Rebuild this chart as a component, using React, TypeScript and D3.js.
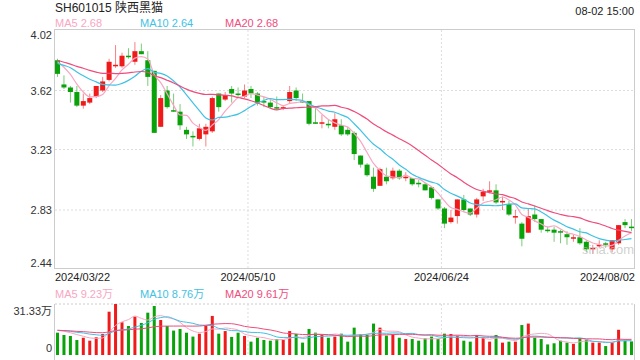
import React from "react";
import * as d3 from "d3";

// header texts
const title = "SH601015 陕西黑猫";
const stamp = "08-02 15:00";

// daily candles 2024/03/22 .. 2024/08/02 (90 trading days)
const opens = [
  3.82, 3.66, 3.64, 3.61, 3.52, 3.54, 3.58, 3.62, 3.69, 3.78,
  3.78, 3.85, 3.81, 3.88, 3.82, 3.75, 3.38, 3.62, 3.49, 3.48,
  3.36, 3.32, 3.30, 3.33, 3.35, 3.60, 3.56, 3.63, 3.60, 3.58,
  3.63, 3.60, 3.55, 3.54, 3.51, 3.50, 3.55, 3.62, 3.55, 3.55,
  3.41, 3.40, 3.40, 3.38, 3.39, 3.36, 3.34, 3.19, 3.13, 3.05,
  2.99, 3.05, 3.04, 3.09, 3.04, 3.04, 3.01, 3.00, 2.98, 2.90,
  2.84, 2.75, 2.79, 2.90, 2.84, 2.80, 2.92, 2.95, 2.96, 2.88,
  2.87, 2.78, 2.74, 2.68, 2.80, 2.77, 2.70, 2.70, 2.69, 2.67,
  2.64, 2.65, 2.62, 2.57, 2.59, 2.61, 2.57, 2.61, 2.75, 2.72,
];
const highs = [
  3.83, 3.72, 3.65, 3.65, 3.60, 3.60, 3.65, 3.71, 3.83, 3.92,
  3.87, 3.90, 3.94, 3.93, 3.88, 3.75, 3.59, 3.65, 3.60, 3.53,
  3.38, 3.35, 3.40, 3.40, 3.58, 3.60, 3.61, 3.65, 3.64, 3.66,
  3.65, 3.61, 3.58, 3.57, 3.58, 3.52, 3.65, 3.64, 3.60, 3.55,
  3.51, 3.46, 3.43, 3.47, 3.43, 3.38, 3.35, 3.19, 3.14, 3.11,
  3.11, 3.11, 3.11, 3.10, 3.08, 3.04, 3.03, 3.01, 2.98, 2.90,
  2.85, 2.83, 2.90, 2.93, 2.84, 2.91, 2.97, 3.02, 3.00, 2.92,
  2.89, 2.83, 2.75, 2.84, 2.86, 2.77, 2.72, 2.72, 2.70, 2.69,
  2.67, 2.71, 2.63, 2.60, 2.63, 2.62, 2.63, 2.73, 2.77, 2.77,
];
const lows = [
  3.71, 3.63, 3.54, 3.51, 3.50, 3.53, 3.57, 3.61, 3.68, 3.77,
  3.77, 3.83, 3.79, 3.86, 3.65, 3.34, 3.38, 3.50, 3.48, 3.36,
  3.30, 3.25, 3.29, 3.25, 3.34, 3.48, 3.55, 3.54, 3.57, 3.57,
  3.57, 3.52, 3.51, 3.50, 3.49, 3.49, 3.53, 3.55, 3.54, 3.39,
  3.40, 3.37, 3.37, 3.36, 3.32, 3.32, 3.16, 3.11, 3.05, 2.95,
  2.99, 3.00, 3.03, 3.03, 3.02, 2.99, 2.98, 2.96, 2.90, 2.83,
  2.71, 2.74, 2.74, 2.82, 2.79, 2.78, 2.89, 2.94, 2.87, 2.83,
  2.79, 2.74, 2.59, 2.68, 2.75, 2.68, 2.68, 2.62, 2.61, 2.60,
  2.62, 2.60, 2.55, 2.54, 2.58, 2.58, 2.55, 2.60, 2.71, 2.69,
];
const closes = [
  3.73, 3.64, 3.61, 3.52, 3.55, 3.57, 3.65, 3.68, 3.81, 3.79,
  3.85, 3.84, 3.88, 3.86, 3.71, 3.34, 3.57, 3.51, 3.48, 3.39,
  3.33, 3.31, 3.37, 3.38, 3.57, 3.51, 3.59, 3.60, 3.59, 3.62,
  3.60, 3.54, 3.54, 3.51, 3.50, 3.51, 3.61, 3.57, 3.54, 3.40,
  3.40, 3.41, 3.39, 3.43, 3.33, 3.33, 3.20, 3.13, 3.06, 2.97,
  3.10, 3.02, 3.09, 3.04, 3.05, 3.00, 3.00, 2.96, 2.91, 2.84,
  2.74, 2.78, 2.90, 2.83, 2.80, 2.90, 2.95, 2.96, 2.88, 2.89,
  2.80, 2.79, 2.64, 2.79, 2.77, 2.70, 2.69, 2.68, 2.68, 2.65,
  2.65, 2.61, 2.57, 2.58, 2.60, 2.60, 2.63, 2.73, 2.73, 2.71,
];
// volume, 万手
const volumes = [
  13.7, 12.3, 11.7, 9.2, 10.6, 8.8, 10.9, 12.9, 26.6, 31.33,
  20.1, 17.8, 23.6, 19.7, 26.0, 30.1, 21.5, 17.8, 15.0, 16.0,
  13.7, 11.3, 13.1, 18.0, 24.0, 13.1, 14.7, 11.1, 13.7, 11.7,
  8.2, 10.6, 9.2, 8.8, 9.8, 9.2, 14.7, 12.9, 7.6, 16.0,
  13.7, 12.9, 10.6, 11.3, 13.1, 8.2, 16.8, 12.9, 12.3, 19.3,
  16.8, 11.9, 12.9, 10.6, 9.8, 9.8, 8.8, 10.2, 11.3, 9.8,
  13.1, 12.9, 11.9, 8.8, 8.2, 12.3, 10.9, 8.2, 12.3, 7.6,
  8.2, 8.2, 18.4, 19.3, 10.6, 9.8, 6.5, 7.2, 8.8, 7.6,
  6.8, 10.25, 9.2, 7.6, 7.6, 5.5, 8.0, 15.5, 8.8, 8.35,
];
// the 19 sessions before the window, only feeding the moving averages
const priorCloses = [
  3.90, 3.86, 3.82, 3.80, 3.85, 3.88, 3.84, 3.80, 3.83, 3.82,
  3.78, 3.76, 3.80, 3.81, 3.80, 3.82, 3.85, 3.84, 3.81,
];
const priorVolumes = [
  16.2, 14.8, 15.5, 13.9, 15.1, 16.8, 14.2, 15.6, 14.9, 15.3,
  14.1, 16.0, 15.2, 14.6, 15.8, 15.0, 16.4, 14.7, 15.9,
];

const priceTicks = [4.02, 3.62, 3.23, 2.83, 2.44];
const dateLabels = ["2024/03/22", "2024/05/10", "2024/06/24", "2024/08/02"];
const dateIndex = [0, 30, 60, 89];
const maPeriods = [5, 10, 20];

const maColors = ["#f9a6c3", "#3fc2e4", "#ee4d7d"];
const UP = "#ef1b1b";
const DOWN = "#0aa20a";
const FONT = "Arial, 'Liberation Sans', 'Noto Sans CJK SC', sans-serif";

function movingAvg(prior: number[], vals: number[], n: number) {
  const all = prior.concat(vals);
  const p = prior.length;
  return vals.map((_, i) => d3.mean(all.slice(i + p - n + 1, i + p + 1)) as number);
}

export default function App() {
  const left = 55;
  const right = 634;
  const top = 30;
  const bottom = 269;
  const vTop = 304;
  const vBottom = 355;

  const idx = d3.range(closes.length);
  const x = d3.scaleBand<number>().domain(idx).range([left, right]).paddingInner(0.22);
  const bw = x.bandwidth();
  const cx = (i: number) => (x(i) as number) + bw / 2;
  const y = d3.scaleLinear().domain([2.44, 4.02]).range([bottom, top]);
  const yv = d3.scaleLinear().domain([0, 31.33]).range([vBottom, vTop]);

  const priceMA = maPeriods.map((n) => movingAvg(priorCloses, closes, n));
  const volMA = maPeriods.map((n) => movingAvg(priorVolumes, volumes, n));

  const priceLine = d3.line<number>().x((_, i) => cx(i)).y((d) => y(d)).curve(d3.curveMonotoneX);
  const volLine = d3.line<number>().x((_, i) => cx(i)).y((d) => yv(d)).curve(d3.curveMonotoneX);

  const f2 = d3.format(".2f");
  const legendX = [55, 140, 225];
  const gridX = [dateIndex[1], dateIndex[2]].map((i) => (x(i) as number) - 0.5);

  return (
    <svg width={640} height={360} style={{ position: "absolute", left: 0, top: 0, background: "#fff" }} fontFamily={FONT}>
      <text x={55} y={12} fontSize={12} fill="#222">{title}</text>
      <text x={634} y={15} fontSize={11} fill="#222" textAnchor="end">{stamp}</text>
      {maPeriods.map((n, k) => (
        <text key={"pl" + n} x={legendX[k]} y={27} fontSize={11} fill={maColors[k]}>
          {"MA" + n + " " + f2(priceMA[k][closes.length - 1])}
        </text>
      ))}

      {/* price panel grid */}
      {priceTicks.slice(1, -1).map((t) => (
        <line key={"g" + t} x1={left} x2={right} y1={y(t)} y2={y(t)} stroke="#ddd" strokeDasharray="2,2" />
      ))}
      {gridX.map((gx) => (
        <line key={"v" + gx} x1={gx} x2={gx} y1={top} y2={bottom} stroke="#ddd" strokeDasharray="2,2" />
      ))}
      <rect x={left - 0.5} y={top - 0.5} width={right - left + 1} height={bottom - top} fill="none" stroke="#ccc" />

      {priceTicks.map((t, k) => (
        <text key={"t" + t} x={52} y={k === 0 ? y(t) + 9 : k === priceTicks.length - 1 ? y(t) - 2 : y(t) + 4}
          fontSize={11} fill="#333" textAnchor="end">{f2(t)}</text>
      ))}

      {/* candles */}
      {idx.map((i) => {
        const up = closes[i] >= opens[i];
        const c = up ? UP : DOWN;
        const y0 = y(Math.max(opens[i], closes[i]));
        const y1 = y(Math.min(opens[i], closes[i]));
        return (
          <g key={"c" + i}>
            <line x1={cx(i)} x2={cx(i)} y1={y(highs[i])} y2={y(lows[i])} stroke={c} strokeOpacity={0.55} />
            <rect x={x(i)} y={y0} width={bw} height={Math.max(1, y1 - y0)} fill={c} />
          </g>
        );
      })}

      {priceMA.map((m, k) => (
        <path key={"pm" + k} d={priceLine(m) as string} fill="none" stroke={maColors[k]} strokeWidth={1.2} />
      ))}

      <text x={582} y={254} fontSize={13} fill="#bbb" fillOpacity={0.7}>sina.com</text>

      {/* date axis */}
      {dateLabels.map((lab, k) => (
        <text key={lab} x={k === 0 ? left : k === dateLabels.length - 1 ? right + 1 : gridX[k - 1]} y={281}
          fontSize={11} fill="#222" textAnchor={k === 0 ? "start" : k === dateLabels.length - 1 ? "end" : "middle"}>
          {lab}
        </text>
      ))}

      {/* volume panel */}
      {maPeriods.map((n, k) => (
        <text key={"vl" + n} x={legendX[k]} y={298} fontSize={11} fill={maColors[k]}>
          {"MA" + n + " " + f2(volMA[k][volumes.length - 1]) + "万"}
        </text>
      ))}
      <line x1={left} x2={right} y1={vTop} y2={vTop} stroke="#ccc" strokeDasharray="2,2" />
      <line x1={left - 0.5} x2={left - 0.5} y1={vTop} y2={360} stroke="#ccc" />
      <line x1={right + 0.5} x2={right + 0.5} y1={vTop} y2={360} stroke="#ccc" />
      {gridX.map((gx) => (
        <line key={"vv" + gx} x1={gx} x2={gx} y1={vTop} y2={vBottom} stroke="#ddd" strokeDasharray="2,2" />
      ))}
      <text x={52} y={315} fontSize={11} fill="#333" textAnchor="end">{f2(31.33) + "万"}</text>
      <text x={52} y={352} fontSize={11} fill="#333" textAnchor="end">0</text>
      {idx.map((i) => (
        <rect key={"b" + i} x={cx(i) - 1.5} y={yv(volumes[i])} width={3} height={vBottom - yv(volumes[i])}
          fill={closes[i] >= opens[i] ? UP : DOWN} />
      ))}
      {volMA.map((m, k) => (
        <path key={"vm" + k} d={volLine(m) as string} fill="none" stroke={maColors[k]} strokeWidth={1} />
      ))}
    </svg>
  );
}
